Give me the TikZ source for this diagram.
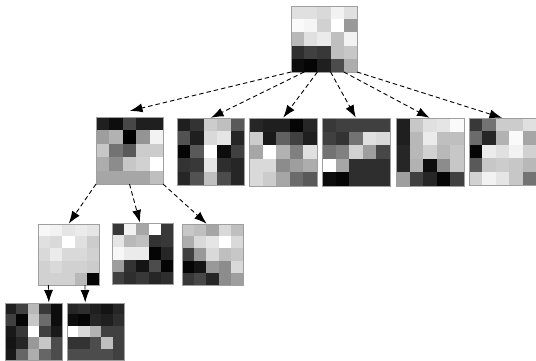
\documentclass[tikz,border=0pt]{standalone}
\usetikzlibrary{arrows.meta,calc}

\tikzset{
  gridframe/.style={draw=gray!75, line width=0.8bp, inner sep=0pt, outer sep=0pt, fill=none},
  arr/.style={-{Latex[length=12.5bp,width=9bp]}, dash pattern=on 4.5bp off 3bp, line width=0.9bp, shorten >=0.5bp},
}

% #1 name, #2 x, #3 y (top-left corner), #4 side length, #5 25 grey levels (percent white), row by row
\newcommand\pixgrid[5]{%
  \foreach \v [count=\i from 0] in {#5} {
    \pgfmathsetmacro\cx{#2 + mod(\i,5)*#4/5}
    \pgfmathsetmacro\cy{#3 + floor(\i/5)*#4/5}
    \fill[white!\v!black] (\cx,\cy) rectangle ++(#4/5+0.2,#4/5+0.2);
  }
  \node[gridframe, minimum width=#4bp, minimum height=#4bp, anchor=north west] (#1) at (#2,#3) {};
}

\begin{document}
\begin{tikzpicture}[x=1bp, y=-1bp]
\useasboundingbox (0,0) rectangle (536,360);

% root
\pixgrid{t}{291}{6}{66}{88,88,85,95,88, 98,96,82,100,60, 72,88,92,75,95, 18,25,22,75,78, 5,2,12,30,68}

% second level
\pixgrid{c1}{96}{117}{67}{12,5,28,12,12, 62,70,0,58,95, 78,45,35,80,80, 68,55,78,82,100, 65,65,65,65,75}
\pixgrid{c2}{177}{118}{67}{12,20,80,75,35, 32,12,85,90,15, 2,35,100,5,25, 20,22,90,18,15, 15,32,75,30,15}
\pixgrid{c3}{249}{118}{68}{15,12,12,2,15, 80,10,38,25,12, 65,100,70,50,88, 85,85,55,62,68, 85,80,65,42,35}
\pixgrid{c4}{322}{118}{68}{22,25,25,25,25, 25,20,45,88,85, 45,50,82,62,28, 100,65,18,18,18, 5,2,18,18,18}
\pixgrid{c5}{396}{118}{68}{12,78,88,90,98, 12,72,92,75,75, 15,72,82,72,78, 15,70,5,55,78, 62,25,15,2,25}
\pixgrid{c6}{469}{118}{67}{22,45,80,80,88, 42,15,70,98,65, 2,92,88,95,82, 35,78,80,78,72, 82,95,90,78,45}

% third level
\pixgrid{d1}{38}{224}{61}{97,95,90,92,90, 88,85,100,88,80, 85,92,85,85,82, 82,85,82,82,80, 82,82,82,72,2}
\pixgrid{d2}{112}{223}{61}{22,95,65,100,22, 90,72,75,20,22, 97,92,92,2,15, 62,20,8,30,2, 25,18,22,15,18}
\pixgrid{d3}{182}{224}{61}{78,75,65,85,75, 68,85,90,100,85, 25,60,85,75,78, 2,8,60,55,85, 22,28,15,55,62}

% fourth level
\pixgrid{e1}{5}{303}{57}{12,25,72,22,5, 25,2,78,42,5, 10,22,100,25,10, 8,15,60,78,30, 10,40,68,40,30}
\pixgrid{e2}{67}{303}{57}{15,18,12,8,15, 5,2,15,12,18, 100,85,70,25,25, 20,20,30,75,25, 30,30,30,30,25}

% root -> second level
\draw[arr] (t.south west) -- ($(c1.north)+(0,-6)$);
\foreach \k [evaluate=\k as \f using (\k-1)/5] in {2,...,6}
  \draw[arr] ($(t.south west)!\f!(t.south east)$) -- (c\k.north);

% second level -> third level
\draw[arr] (c1.south west) -- (d1.north);
\draw[arr] (c1.south) -- ($(d2.north west)!0.46!(d2.north east)$);
\draw[arr] (c1.south east) -- ($(d3.north west)!0.41!(d3.north east)$);

% third level -> fourth level
\draw[arr] ($(d1.south west)!0.17!(d1.south east)$) -- ($(e1.north west)!0.77!(e1.north east)$);
\draw[arr] ($(d1.south west)!0.77!(d1.south east)$) -- ($(e2.north west)!0.32!(e2.north east)$);

\end{tikzpicture}
\end{document}
